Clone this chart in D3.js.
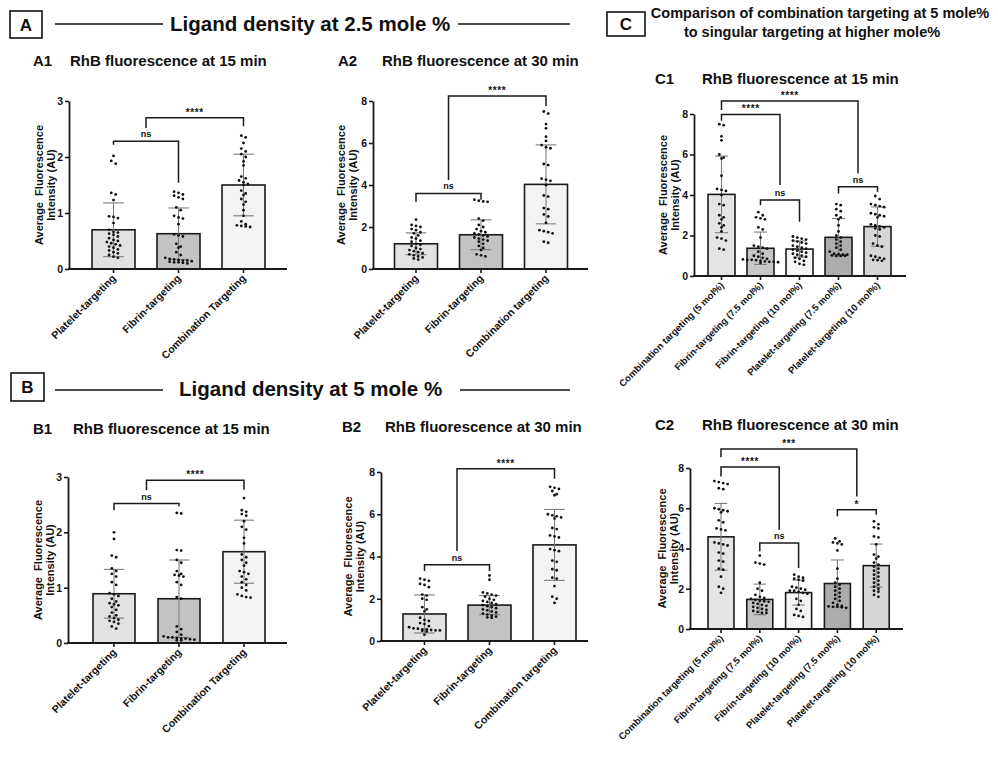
<!DOCTYPE html>
<html>
<head>
<meta charset="utf-8">
<script src="https://cdn.jsdelivr.net/npm/d3@7"></script>
<style>
  body { margin: 0; background: #fff; }
  svg text { font-family: "Liberation Sans", Arial, Helvetica, sans-serif; font-weight: bold; fill: #111; }
</style>
</head>
<body>
<svg id="fig" width="998" height="759"></svg>
<script>
// ---- data ----
const catsAB1 = ['Platelet-targeting', 'Fibrin-targeting', 'Combination Targeting'];
const catsAB2 = ['Platelet-targeting', 'Fibrin-targeting', 'Combination targeting'];
const catsC = ['Combination targeting (5 mol%)', 'Fibrin-targeting (7.5 mol%)', 'Fibrin-targeting (10 mol%)',
               'Platelet-targeting (7.5 mol%)', 'Platelet-targeting (10 mol%)'];
const ticks3 = [0, 1, 2, 3];
const ticks8 = [0, 2, 4, 6, 8];

const a1Means = [0.70, 0.63, 1.50];
const a1Sd = [0.48, 0.46, 0.55];
const a1Points = [
  [2.02, 1.93, 1.88, 1.36, 1.33, 1.23, 0.94, 0.93, 0.91, 0.82, 0.70, 0.66, 0.65, 0.63, 0.61, 0.58, 0.55, 0.52,
   0.50, 0.48, 0.46, 0.44, 0.42, 0.40, 0.38, 0.35, 0.33, 0.30, 0.28, 0.25, 0.22, 0.20],
  [1.38, 1.36, 1.33, 1.31, 1.28, 1.25, 1.10, 1.05, 0.95, 0.92, 0.90, 0.80, 0.62, 0.60, 0.58, 0.45, 0.40, 0.38,
   0.30, 0.25, 0.20, 0.18, 0.17, 0.16, 0.15, 0.15, 0.14, 0.13, 0.12, 0.12, 0.11, 0.10],
  [2.38, 2.35, 2.25, 2.15, 2.10, 2.05, 2.00, 1.92, 1.85, 1.65, 1.62, 1.58, 1.55, 1.52, 1.50, 1.40, 1.35, 1.32,
   1.25, 1.20, 1.15, 1.05, 0.95, 0.85, 0.80, 0.78, 0.77, 0.76, 0.75]
];
const a1Brackets = [
  { a: 0, b: 1, y: 2.28, ya: 2.22, yb: 1.54, label: 'ns' },
  { a: 0.5, b: 2, y: 2.70, ya: 2.52, yb: 2.55, label: '****' }
];

const a2Means = [1.20, 1.63, 4.03];
const a2Sd = [0.52, 0.71, 1.88];
const a2Points = [
  [2.35, 2.10, 2.05, 2.00, 1.90, 1.85, 1.75, 1.70, 1.60, 1.50, 1.45, 1.35, 1.30, 1.20, 1.15, 1.10, 1.00, 0.95,
   0.90, 0.85, 0.80, 0.75, 0.70, 0.65, 0.60, 0.55, 0.50, 0.45],
  [3.30, 3.25, 3.22, 3.20, 2.40, 2.30, 2.10, 2.00, 1.90, 1.80, 1.75, 1.70, 1.65, 1.60, 1.55, 1.50, 1.45, 1.40,
   1.35, 1.30, 1.20, 1.10, 1.00, 0.90, 0.70, 0.65, 0.60],
  [7.50, 7.40, 6.90, 6.70, 6.30, 6.10, 5.90, 5.80, 5.75, 5.00, 4.95, 4.30, 4.25, 4.20, 4.00, 3.50, 3.45, 2.90,
   2.85, 2.60, 2.50, 2.20, 1.85, 1.80, 1.75, 1.70, 1.30, 1.25]
];
const a2Brackets = [
  { a: 0, b: 1, y: 3.60, ya: 3.20, yb: 3.30, label: 'ns' },
  { a: 0.5, b: 2, y: 8.24, ya: 4.24, yb: 7.76, label: '****' }
];

const b1Means = [0.89, 0.80, 1.65];
const b1Sd = [0.44, 0.70, 0.57];
const b1Points = [
  [2.00, 1.88, 1.58, 1.55, 1.35, 1.30, 1.25, 1.20, 1.10, 1.05, 0.90, 0.88, 0.85, 0.80, 0.75, 0.72, 0.70, 0.68,
   0.65, 0.60, 0.55, 0.50, 0.48, 0.45, 0.42, 0.40, 0.38, 0.35, 0.30, 0.26],
  [2.35, 2.34, 1.68, 1.67, 1.50, 1.45, 1.30, 1.25, 1.23, 1.22, 1.20, 1.10, 1.05, 0.83, 0.80, 0.30, 0.25, 0.20,
   0.15, 0.12, 0.10, 0.10, 0.09, 0.08, 0.08, 0.07, 0.06, 0.05, 0.05],
  [2.62, 2.40, 2.37, 2.33, 2.30, 2.20, 2.10, 2.05, 1.90, 1.80, 1.60, 1.55, 1.50, 1.45, 1.40, 1.30, 1.28, 1.25,
   1.20, 1.15, 1.10, 1.05, 1.00, 0.95, 0.88, 0.85, 0.83, 0.82]
];
const b1Brackets = [
  { a: 0, b: 1, y: 2.52, ya: 2.40, yb: 2.47, label: 'ns' },
  { a: 0.5, b: 2, y: 2.94, ya: 2.76, yb: 2.77, label: '****' }
];

const b2Means = [1.28, 1.70, 4.55];
const b2Sd = [0.90, 0.45, 1.68];
const b2Points = [
  [2.95, 2.90, 2.85, 2.70, 2.65, 2.55, 2.20, 2.15, 2.00, 1.95, 1.60, 1.50, 1.40, 1.10, 1.00, 0.95, 0.85, 0.80,
   0.70, 0.65, 0.60, 0.58, 0.55, 0.55, 0.52, 0.50, 0.50, 0.48, 0.45, 0.30],
  [3.10, 2.90, 2.30, 2.25, 2.20, 2.15, 2.10, 2.00, 1.95, 1.90, 1.85, 1.80, 1.75, 1.70, 1.65, 1.60, 1.55, 1.50,
   1.45, 1.40, 1.35, 1.30, 1.25, 1.20, 1.15, 1.12, 1.10],
  [7.30, 7.25, 7.20, 7.10, 6.95, 6.90, 6.00, 5.95, 5.90, 5.85, 5.80, 5.35, 5.30, 5.00, 4.95, 4.90, 4.35, 4.30,
   4.25, 3.80, 3.75, 3.40, 3.35, 3.00, 2.95, 2.60, 2.10, 2.00, 1.80]
];
const b2Brackets = [
  { a: 0, b: 1, y: 3.61, ya: 3.31, yb: 3.31, label: 'ns' },
  { a: 0.5, b: 2, y: 8.15, ya: 4.26, yb: 7.68, label: '****' }
];

const c1Means = [4.03, 1.37, 1.33, 1.91, 2.44];
const c1Sd = [1.89, 0.80, 0.40, 0.93, 0.97];
const c1Points = [
  [7.50, 7.45, 6.90, 6.70, 6.00, 5.85, 5.80, 4.95, 4.30, 4.25, 4.20, 4.00, 3.55, 3.50, 3.00, 2.90, 2.80, 2.60,
   2.50, 2.40, 2.20, 1.90, 1.85, 1.75, 1.35, 1.30],
  [3.15, 3.00, 2.90, 2.85, 2.80, 2.40, 2.30, 1.90, 1.50, 1.45, 1.40, 1.35, 1.20, 1.10, 1.00, 0.95, 0.90, 0.85,
   0.82, 0.80, 0.80, 0.78, 0.75, 0.72, 0.70, 0.70, 0.68, 0.65],
  [1.95, 1.90, 1.85, 1.80, 1.75, 1.70, 1.65, 1.60, 1.50, 1.45, 1.40, 1.35, 1.30, 1.25, 1.20, 1.15, 1.10, 1.05,
   1.00, 0.95, 0.90, 0.85, 0.75, 0.70, 0.60, 0.55],
  [3.55, 3.50, 3.30, 3.20, 3.00, 2.90, 2.80, 2.50, 2.20, 2.00, 1.90, 1.80, 1.70, 1.60, 1.50, 1.40, 1.30, 1.20,
   1.10, 1.08, 1.05, 1.05, 1.02, 1.00, 1.00, 1.00],
  [3.95, 3.80, 3.55, 3.50, 3.45, 3.40, 3.10, 3.05, 3.00, 2.95, 2.90, 2.55, 2.50, 2.45, 2.40, 2.35, 2.30, 2.00,
   1.95, 1.60, 1.50, 1.45, 1.00, 0.95, 0.90, 0.85, 0.80, 0.78, 0.75]
];
const c1Brackets = [
  { a: 0, b: 3.5, y: 8.64, ya: 8.20, yb: 5.07, label: '****' },
  { a: 0, b: 1.5, y: 7.98, ya: 7.67, yb: 4.49, label: '****' },
  { a: 1, b: 2, y: 3.75, ya: 3.50, yb: 2.68, label: 'ns' },
  { a: 3, b: 4, y: 4.41, ya: 4.08, yb: 4.16, label: 'ns' }
];

const c2Means = [4.58, 1.47, 1.81, 2.26, 3.15];
const c2Sd = [1.66, 0.76, 0.62, 1.17, 1.07];
const c2Points = [
  [7.35, 7.30, 7.25, 7.20, 7.00, 6.95, 6.00, 5.95, 5.90, 5.85, 5.80, 5.40, 5.30, 5.00, 4.95, 4.90, 4.30, 4.25,
   4.20, 4.15, 3.80, 3.75, 3.40, 3.35, 3.00, 2.95, 2.60, 2.10, 2.00, 1.80],
  [3.65, 3.30, 3.25, 3.20, 2.30, 2.00, 1.90, 1.70, 1.60, 1.55, 1.50, 1.45, 1.40, 1.38, 1.35, 1.30, 1.25, 1.20,
   1.15, 1.10, 1.05, 1.00, 0.95, 0.90, 0.85, 0.80, 0.80],
  [2.70, 2.60, 2.55, 2.50, 2.45, 2.40, 2.10, 2.05, 2.00, 1.95, 1.90, 1.90, 1.85, 1.80, 1.75, 1.50, 1.40, 1.20,
   1.00, 0.90, 0.70, 0.65, 0.60],
  [4.50, 4.35, 4.30, 4.25, 4.20, 3.90, 3.00, 2.50, 2.30, 2.20, 2.10, 2.00, 1.90, 1.80, 1.70, 1.60, 1.50, 1.40,
   1.30, 1.20, 1.15, 1.12, 1.10, 1.10, 1.08, 1.05],
  [5.35, 5.20, 5.05, 5.00, 4.60, 4.55, 4.20, 3.70, 3.60, 3.50, 3.30, 3.20, 3.10, 3.00, 2.90, 2.80, 2.70, 2.60,
   2.50, 2.40, 2.30, 2.20, 2.10, 2.00, 1.90, 1.85, 1.70, 1.60]
];
const c2Brackets = [
  { a: 0, b: 3.5, y: 8.94, ya: 8.53, yb: 6.59, label: '***' },
  { a: 0, b: 1.5, y: 8.05, ya: 7.58, yb: 4.93, label: '****' },
  { a: 1, b: 2, y: 4.27, ya: 3.86, yb: 3.03, label: 'ns' },
  { a: 3, b: 4, y: 5.93, ya: 5.60, yb: 5.68, label: '*' }
];

// ---- layout ----
const fillsAB = ['#e2e2e2', '#c3c3c3', '#f3f3f3'];
const fillsC = ['#e4e4e4', '#c6c6c6', '#f4f4f4', '#adadad', '#d6d6d6'];

const panels = [
  { tag: 'A1', title: 'RhB fluorescence at 15 min', tagX: 33, titleX: 70, titleY: 66, titleSize: 15,
    cats: catsAB1, means: a1Means, sd: a1Sd, pts: a1Points, brackets: a1Brackets, fills: fillsAB,
    ymax: 3, ticks: ticks3, axisX: 69, top: 101, bottom: 269, axisEnd: 287,
    off: 44.5, step: 65, bw: 43, labX: [43, 55], xFont: 10.5 },
  { tag: 'A2', title: 'RhB fluorescence at 30 min', tagX: 338, titleX: 382, titleY: 66, titleSize: 15,
    cats: catsAB2, means: a2Means, sd: a2Sd, pts: a2Points, brackets: a2Brackets, fills: fillsAB,
    ymax: 8, ticks: ticks8, axisX: 373, top: 101, bottom: 269, axisEnd: 588,
    off: 43, step: 65, bw: 43, labX: [345, 357], xFont: 10.5 },
  { tag: 'B1', title: 'RhB fluorescence at 15 min', tagX: 33, titleX: 73, titleY: 434, titleSize: 15,
    cats: catsAB1, means: b1Means, sd: b1Sd, pts: b1Points, brackets: b1Brackets, fills: fillsAB,
    ymax: 3, ticks: ticks3, axisX: 68, top: 477, bottom: 643, axisEnd: 287,
    off: 46, step: 65, bw: 42, labX: [42, 54], xFont: 10.5 },
  { tag: 'B2', title: 'RhB fluorescence at 30 min', tagX: 342, titleX: 385, titleY: 432, titleSize: 15,
    cats: catsAB2, means: b2Means, sd: b2Sd, pts: b2Points, brackets: b2Brackets, fills: fillsAB,
    ymax: 8, ticks: ticks8, axisX: 381, top: 472, bottom: 641, axisEnd: 588,
    off: 43.5, step: 65, bw: 43, labX: [352, 364], xFont: 10.5 },
  { tag: 'C1', title: 'RhB fluorescence at 15 min', tagX: 655, titleX: 702, titleY: 84, titleSize: 15,
    cats: catsC, means: c1Means, sd: c1Sd, pts: c1Points, brackets: c1Brackets, fills: fillsC,
    ymax: 8, ticks: ticks8, axisX: 694, top: 114, bottom: 276, axisEnd: 906,
    off: 27.5, step: 39, bw: 27, labX: [667, 679], xFont: 9.5 },
  { tag: 'C2', title: 'RhB fluorescence at 30 min', tagX: 655, titleX: 702, titleY: 430, titleSize: 15,
    cats: catsC, means: c2Means, sd: c2Sd, pts: c2Points, brackets: c2Brackets, fills: fillsC,
    ymax: 8, ticks: ticks8, axisX: 690, top: 468, bottom: 629, axisEnd: 903,
    off: 31, step: 38.8, bw: 26, labX: [666, 678], xFont: 9.5 }
];

const svg = d3.select('#fig');

// Section header: boxed letter, optional rules either side of the text
function sectionHeader(letter, box, textX, textY, rules) {
  svg.append('rect').attr('x', box[0]).attr('y', box[1]).attr('width', box[2]).attr('height', box[3])
    .attr('fill', 'none').attr('stroke', '#111').attr('stroke-width', 1.6);
  svg.append('text').attr('x', box[0] + box[2] / 2).attr('y', box[1] + box[3] / 2 + 6)
    .attr('text-anchor', 'middle').attr('font-size', 17).text(letter);
  (rules || []).forEach(r => svg.append('line').attr('x1', r[0]).attr('x2', r[1]).attr('y1', r[2]).attr('y2', r[2])
    .attr('stroke', '#111').attr('stroke-width', 1.4));
  return svg.append('text').attr('x', textX).attr('y', textY);
}

sectionHeader('A', [10, 11, 32, 27], 170, 31, [[55, 163, 24], [458, 570, 24]])
  .attr('font-size', 20.5).text('Ligand density at 2.5 mole %');
sectionHeader('B', [11, 373, 33, 28], 179, 396, [[55, 163, 390], [460, 570, 390]])
  .attr('font-size', 20.5).text('Ligand density at 5 mole %');
const cHead = sectionHeader('C', [607, 12, 38, 24], 820, 18, null)
  .attr('font-size', 14.5).attr('text-anchor', 'middle');
cHead.append('tspan').attr('x', 820).text('Comparison of combination targeting at 5 mole%');
cHead.append('tspan').attr('x', 812).attr('dy', 19).text('to singular targeting at higher mole%');

// Prism-like scatter: points at nearly the same height sit side by side
function swarm(vals, y, r) {
  const sorted = vals.map(v => ({ v, py: y(v) })).sort((a, b) => a.py - b.py);
  const out = [];
  let grp = [];
  const flush = () => {
    grp.forEach((p, i) => out.push({ ...p, dx: (i - (grp.length - 1) / 2) * (2 * r + 1.6) }));
    grp = [];
  };
  sorted.forEach(p => {
    if (grp.length && p.py - grp[0].py > 2 * r + 0.6) flush();
    grp.push(p);
  });
  flush();
  return out;
}

panels.forEach(p => {
  const g = svg.append('g');
  const n = p.cats.length;

  g.append('text').attr('x', p.tagX).attr('y', p.titleY).attr('font-size', p.titleSize).text(p.tag);
  g.append('text').attr('x', p.titleX).attr('y', p.titleY).attr('font-size', p.titleSize).text(p.title);

  const y = d3.scaleLinear().domain([0, p.ymax]).range([p.bottom, p.top]);
  const x0 = p.axisX + p.off - p.step / 2;
  const pad = 1 - p.bw / p.step;
  const x = d3.scaleBand().domain(p.cats).range([x0, x0 + n * p.step])
    .paddingInner(pad).paddingOuter(pad / 2);
  const cx = i => x(p.cats[0]) + x.bandwidth() / 2 + i * x.step();

  // bars
  g.selectAll('rect.bar').data(p.means).join('rect')
    .attr('class', 'bar')
    .attr('x', (d, i) => x(p.cats[i]))
    .attr('y', d => y(d))
    .attr('width', x.bandwidth())
    .attr('height', d => y(0) - y(d))
    .attr('fill', (d, i) => p.fills[i])
    .attr('stroke', '#1a1a1a').attr('stroke-width', 1.6);

  // SD error bars
  const cap = x.bandwidth() * 0.24;
  p.means.forEach((m, i) => {
    const eg = g.append('g').attr('stroke', '#7d7d7d').attr('stroke-width', 1.1);
    const hi = y(m + p.sd[i]), lo = y(Math.max(0, m - p.sd[i]));
    eg.append('line').attr('x1', cx(i)).attr('x2', cx(i)).attr('y1', hi).attr('y2', lo);
    [hi, lo].forEach(v => eg.append('line').attr('x1', cx(i) - cap).attr('x2', cx(i) + cap)
      .attr('y1', v).attr('y2', v));
  });

  // individual points
  p.pts.forEach((vals, i) => {
    g.append('g').selectAll('circle').data(swarm(vals, y, 1.4)).join('circle')
      .attr('cx', d => cx(i) + d.dx)
      .attr('cy', d => d.py)
      .attr('r', 1.4)
      .attr('fill', '#111');
  });

  // axes
  const yAxis = g.append('g').attr('transform', `translate(${p.axisX},0)`)
    .call(d3.axisLeft(y).tickValues(p.ticks).tickFormat(d3.format('d'))
      .tickSize(4).tickSizeOuter(0).tickPadding(2));
  yAxis.select('.domain').attr('stroke', '#1a1a1a').attr('stroke-width', 1.8);
  yAxis.selectAll('.tick line').attr('stroke', '#1a1a1a').attr('stroke-width', 1.6);
  yAxis.selectAll('.tick text').attr('font-size', 10.5).attr('font-family', null).attr('fill', '#111');

  g.append('line').attr('x1', p.axisX - 1).attr('x2', p.axisEnd).attr('y1', p.bottom).attr('y2', p.bottom)
    .attr('stroke', '#1a1a1a').attr('stroke-width', 1.8);
  p.cats.forEach((c, i) => {
    g.append('line').attr('x1', cx(i)).attr('x2', cx(i)).attr('y1', p.bottom).attr('y2', p.bottom + 4)
      .attr('stroke', '#1a1a1a').attr('stroke-width', 1.6);
    g.append('text')
      .attr('transform', `translate(${cx(i) + 3},${p.bottom + 10}) rotate(-45)`)
      .attr('text-anchor', 'end').attr('font-size', p.xFont).text(c);
  });

  // y axis title, two lines
  const yc = (p.top + p.bottom) / 2;
  g.append('text').attr('transform', `translate(${p.labX[0]},${yc}) rotate(-90)`)
    .attr('text-anchor', 'middle').attr('font-size', 11).attr('xml:space', 'preserve')
    .text('Average  Fluorescence');
  g.append('text').attr('transform', `translate(${p.labX[1]},${yc}) rotate(-90)`)
    .attr('text-anchor', 'middle').attr('font-size', 11).text('Intensity (AU)');

  // significance brackets
  p.brackets.forEach(b => {
    const xa = cx(b.a), xb = cx(b.b), yb0 = y(b.y);
    g.append('path')
      .attr('d', `M${xa},${y(b.ya)}V${yb0}H${xb}V${y(b.yb)}`)
      .attr('fill', 'none').attr('stroke', '#1a1a1a').attr('stroke-width', 1.5);
    const isNs = b.label === 'ns';
    g.append('text').attr('x', (xa + xb) / 2).attr('y', yb0 - (isNs ? 4 : 2))
      .attr('text-anchor', 'middle')
      .attr('font-size', isNs ? 9 : 10)
      .attr('font-weight', isNs ? 'normal' : 'bold')
      .attr('letter-spacing', isNs ? 0 : 0.6)
      .text(b.label);
  });
});
</script>
</body>
</html>
